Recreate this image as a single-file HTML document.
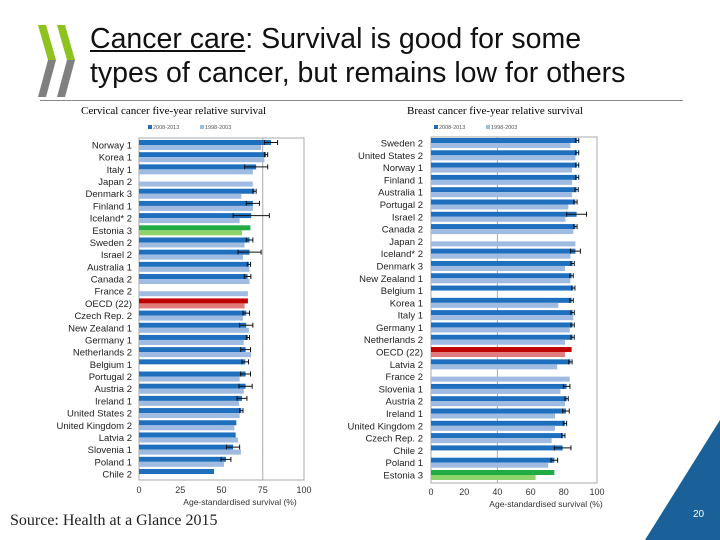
<!DOCTYPE html>
<html><head><meta charset="utf-8">
<style>
html,body{margin:0;padding:0;background:#fff;}
body{width:720px;height:540px;position:relative;overflow:hidden;font-family:"Liberation Sans",sans-serif;}
.t{position:absolute;white-space:nowrap;}
</style></head>
<body>
<svg style="position:absolute;left:0;top:0" width="90" height="100">
  <polygon points="38,25 46,25 56,60 48,60" fill="#8dc21f"/>
  <polygon points="48,60 56,60 46,97 38,97" fill="#808080"/>
  <polygon points="57,25 65,25 75,60 67,60" fill="#8dc21f"/>
  <polygon points="67,60 75,60 65,97 57,97" fill="#808080"/>
</svg>
<div class="t" style="left:90px;top:22px;font-size:28.5px;line-height:34px;color:#111;"><span style="text-decoration:underline">Cancer care</span>: Survival is good for some<br>types of cancer, but remains low for others</div>
<div style="position:absolute;left:40px;top:100px;width:643px;height:1px;background:#888"></div>
<div class="t" style="left:81px;top:105px;font-family:'Liberation Serif',serif;font-size:11px;">Cervical cancer five-year relative survival</div>
<div class="t" style="left:407px;top:105px;font-family:'Liberation Serif',serif;font-size:11px;">Breast cancer five-year relative survival</div>
<div class="t" style="left:10px;top:512px;font-family:'Liberation Serif',serif;font-size:16px;color:#222;">Source: Health at a Glance 2015</div>
<svg style="position:absolute;left:0;top:0" width="720" height="540">
  <polygon points="720,420 720,540 645,540" fill="#1a6099"/>
  <text x="693" y="517" font-size="10" fill="#fff" font-family="Liberation Sans">20</text>
</svg>
<svg id="chart" style="position:absolute;left:0;top:0" width="720" height="540"></svg>
<script>
const leftCats=["Norway 1","Korea 1","Italy 1","Japan 2","Denmark 3","Finland 1","Iceland* 2","Estonia 3","Sweden 2","Israel 2","Australia 1","Canada 2","France 2","OECD (22)","Czech Rep. 2","New Zealand 1","Germany 1","Netherlands 2","Belgium 1","Portugal 2","Austria 2","Ireland 1","United States 2","United Kingdom 2","Latvia 2","Slovenia 1","Poland 1","Chile 2"];
const leftCur=[80,77,71,null,70,69,68,67.5,67,67,66.6,65.8,null,66,65,65,66,64.6,64.4,64.6,64.6,62.4,62,59,58.6,57,52.7,45.5];
const leftPrev=[74,76,69,69,62,69,61,62.5,64,63,67,67,66,64,63,66.6,63.5,68,null,61,63.5,60.6,61,57.8,60,61.8,51.5,null];
const leftErr=[4,1,7,null,1,4,11,null,2,7,1,2,null,null,2,4,1,3,2,3,4,3,1,null,null,4,3,null];
const leftTicks=[0,25,50,75,100];
const rightCats=["Sweden 2","United States 2","Norway 1","Finland 1","Australia 1","Portugal 2","Israel 2","Canada 2","Japan 2","Iceland* 2","Denmark 3","New Zealand 1","Belgium 1","Korea 1","Italy 1","Germany 1","Netherlands 2","OECD (22)","Latvia 2","France 2","Slovenia 1","Austria 2","Ireland 1","United Kingdom 2","Czech Rep. 2","Chile 2","Poland 1","Estonia 3"];
const rightCur=[88,88,88,88,87.7,87,87.7,87,null,87,85.3,84.7,85.7,84.7,85.3,85.3,85.3,84.7,84,null,81.7,81.7,81.3,80.7,79.7,79.3,74.3,74.3];
const rightPrev=[84,87,85,85,85,82.7,81,85.7,87,84,80.7,84,null,76.7,85.7,83.6,80.7,80.7,76,83.6,78,80.7,74.7,74.7,72.7,null,70.6,63];
const rightErr=[1,1,1,1,1,1,6,1,null,3,1,1,1,1,1,1,1,null,1,null,2,1,2,1,1,5,2,null];
const rightTicks=[0,20,40,60,80,100];

const svg=document.getElementById('chart');
const NS='http://www.w3.org/2000/svg';
function mk(tag,attrs,parent){const e=document.createElementNS(NS,tag);for(const k in attrs)e.setAttribute(k,attrs[k]);(parent||svg).appendChild(e);return e;}

function drawChart(o){
  const g=mk('g',{});
  
  
  const xs=v=>o.x0+(v/100)*(o.x1-o.x0);
  const n=o.cats.length;
  const step=(o.yLast-o.yFirst)/(n-1);
  const ys=i=>o.yFirst+i*step;
  const frame=mk('rect',{x:o.x0,y:o.top,width:o.x1-o.x0,height:o.bottom-o.top,fill:'none',stroke:'#aaa','stroke-width':1},g);
  
  
  const gl=mk('line',{x1:xs(o.grid),x2:xs(o.grid),y1:o.top,y2:o.bottom,stroke:'#aaa','stroke-width':1},g);
  
  
  o.cats.forEach((c,i)=>{
    const y=ys(i);
    const isO=c.startsWith('OECD'),isE=c.startsWith('Estonia');
    const dk=isO?'#c00000':isE?'#22aa44':'#1f6fbf';
    const lt=isO?'#e27b7b':isE?'#8fd46a':'#9fbbe2';
    const lb=mk('text',{x:o.labelX,y:y+3.5,'text-anchor':'end','font-size':9.5,fill:'#222','font-family':'Liberation Sans'},g);
    lb.textContent=c;
    
    
    if(o.cur[i]!=null){
      const b=mk('rect',{x:o.x0,y:y-5,width:xs(o.cur[i])-o.x0,height:5,fill:dk},g);
      
      
      if(o.err[i]!=null){
        const e=o.err[i],v=o.cur[i];
        const l=mk('path',{d:`M${xs(v-e)},${y-2.5}H${xs(v+e)}M${xs(v-e)},${y-5}V${y}M${xs(v+e)},${y-5}V${y}`,stroke:'#111','stroke-width':1,fill:'none'},g);
        
        
      }
    }
    if(o.prev[i]!=null){
      const b=mk('rect',{x:o.x0,y:y,width:xs(o.prev[i])-o.x0,height:5,fill:lt},g);
      
      
    }
  });
  o.ticks.forEach(t=>{
    const tx=mk('text',{x:xs(t),y:o.tickY,'text-anchor':'middle','font-size':9,fill:'#333','font-family':'Liberation Sans'},g);
    tx.textContent=t;
    
    
  });
  const at=mk('text',{x:o.axisTitleX,y:o.tickY+12,'text-anchor':'middle','font-size':8.5,fill:'#333','font-family':'Liberation Sans'},g);
  at.textContent='Age-standardised survival (%)';
  
  
  [['2008-2013','#1f6fbf',o.legX],['1998-2003','#9fbbe2',o.legX+52]].forEach(([t,c,x])=>{
    const r=mk('rect',{x:x,y:o.legY-4,width:4,height:4,fill:c},g);
    
    
    const lt=mk('text',{x:x+5,y:o.legY,'font-size':5.5,fill:'#555','font-family':'Liberation Sans'},g);
    lt.textContent=t;
    
    
  });
}
drawChart({name:'cervical-chart',cats:leftCats,cur:leftCur,prev:leftPrev,err:leftErr,ticks:leftTicks,x0:139,x1:304,top:138,bottom:480,yFirst:145,yLast:474,labelX:132,grid:75,tickY:493,axisTitleX:240,legX:148,legY:129});
drawChart({name:'breast-chart',cats:rightCats,cur:rightCur,prev:rightPrev,err:rightErr,ticks:rightTicks,x0:431,x1:597,top:137,bottom:483,yFirst:143,yLast:475,labelX:423,grid:40,tickY:495,axisTitleX:546,legX:434,legY:129});
</script>
</body></html>
